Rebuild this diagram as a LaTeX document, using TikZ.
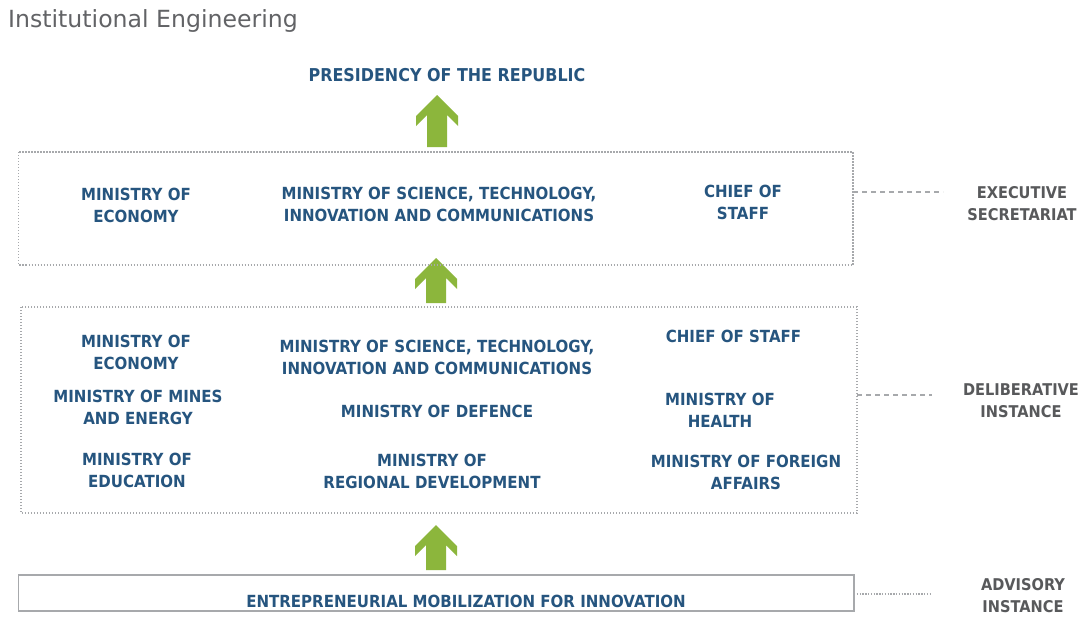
\documentclass[tikz,border=0pt]{standalone}
\usepackage{fontspec}
\setmainfont{DejaVu Sans}[FakeStretch=0.9]
\newfontfamily\titlefont{DejaVu Sans}
\definecolor{txtblue}{HTML}{26557F}
\definecolor{lblgray}{HTML}{58595B}
\definecolor{ttlgray}{HTML}{626366}
\definecolor{boxgray}{HTML}{A7A9AC}
\definecolor{arrgreen}{HTML}{8CB63C}
\tikzset{
  mtext/.style={text=txtblue, font=\bfseries\fontsize{16.7}{22}\selectfont, align=center, inner sep=0pt, anchor=center},
  sidelabel/.style={text=lblgray, font=\bfseries\fontsize{16.2}{22}\selectfont, align=center, inner sep=0pt, anchor=center},
  dotbox/.style={draw=boxgray, line width=1.4pt, dash pattern=on 1.4pt off 1.6pt},
  solidbox/.style={draw=boxgray, line width=1.6pt},
  linkdash/.style={draw=boxgray, line width=1.3pt, dash pattern=on 5pt off 4pt},
  linkdot/.style={draw=boxgray, line width=1.2pt, dash pattern=on 1.4pt off 1.4pt},
  greenarrow/.style={fill=arrgreen, draw=none}
}
\newcommand{\uparrowshape}[3]{% tip x, tip y, length
  \fill[greenarrow] (#1,#2) -- ++(21,21) -- ++(0,10) -- ++(-11,-11) -- ++(0,#3-20) -- ++(-20,0) -- ++(0,-#3+20) -- ++(-11,11) -- ++(0,-10) -- cycle;
}
\begin{document}
\begin{tikzpicture}[x=1pt,y=-1pt]
\useasboundingbox (0,0) rectangle (1083,616);
\fill[white] (0,0) rectangle (1083,616);

% title
\node[anchor=base west, inner sep=0pt, text=ttlgray, font=\titlefont\fontsize{23.6}{28}\selectfont] (title) at (8,27) {Institutional Engineering};

% presidency
\node[mtext, font=\bfseries\fontsize{17.7}{22}\selectfont] (pres) at (447,75) {PRESIDENCY OF THE REPUBLIC};

% arrows
\uparrowshape{437}{95}{52}
\uparrowshape{436}{258}{45}
\uparrowshape{436}{525}{45}

% boxes
\draw[dotbox] (18.5,152) rectangle (853,265);
\coordinate (execE) at (853,192);
\draw[dotbox] (21,307) rectangle (857,513);
\coordinate (delibE) at (857,395);
\draw[solidbox] (18.5,575) rectangle (854,611);
\coordinate (advE) at (854,594);

% executive secretariat contents
\node[mtext] (e1) at (136,205) {MINISTRY OF\\ECONOMY};
\node[mtext] (e2) at (439,204) {MINISTRY OF SCIENCE, TECHNOLOGY,\\INNOVATION AND COMMUNICATIONS};
\node[mtext] (e3) at (743,202) {CHIEF OF\\STAFF};

% deliberative instance contents
\node[mtext] (d1) at (136,352) {MINISTRY OF\\ECONOMY};
\node[mtext] (d2) at (437,357) {MINISTRY OF SCIENCE, TECHNOLOGY,\\INNOVATION AND COMMUNICATIONS};
\node[mtext] (d3) at (733.5,336.5) {CHIEF OF STAFF};
\node[mtext] (d4) at (138,407) {MINISTRY OF MINES\\AND ENERGY};
\node[mtext] (d5) at (437,411) {MINISTRY OF DEFENCE};
\node[mtext] (d6) at (720,410) {MINISTRY OF\\HEALTH};
\node[mtext] (d7) at (137,470) {MINISTRY OF\\EDUCATION};
\node[mtext] (d8) at (432,471) {MINISTRY OF\\REGIONAL DEVELOPMENT};
\node[mtext] (d9) at (746,472) {MINISTRY OF FOREIGN\\AFFAIRS};

% advisory
\node[mtext] (a1) at (466,601) {ENTREPRENEURIAL MOBILIZATION FOR INNOVATION};

% side labels
\node[sidelabel] (lexec) at (1022,204) {EXECUTIVE\\SECRETARIAT};
\node[sidelabel] (ldelib) at (1021,401) {DELIBERATIVE\\INSTANCE};
\node[sidelabel] (ladv) at (1023,596) {ADVISORY\\INSTANCE};

\coordinate (execL) at (943,192);
\coordinate (delibL) at (932,395);
\coordinate (advL) at (930,594);
\draw[linkdash] (execE) -- (execL);
\draw[linkdash] (delibE) -- (delibL);
\draw[linkdot] (advE) -- (advL);
\end{tikzpicture}
\end{document}
